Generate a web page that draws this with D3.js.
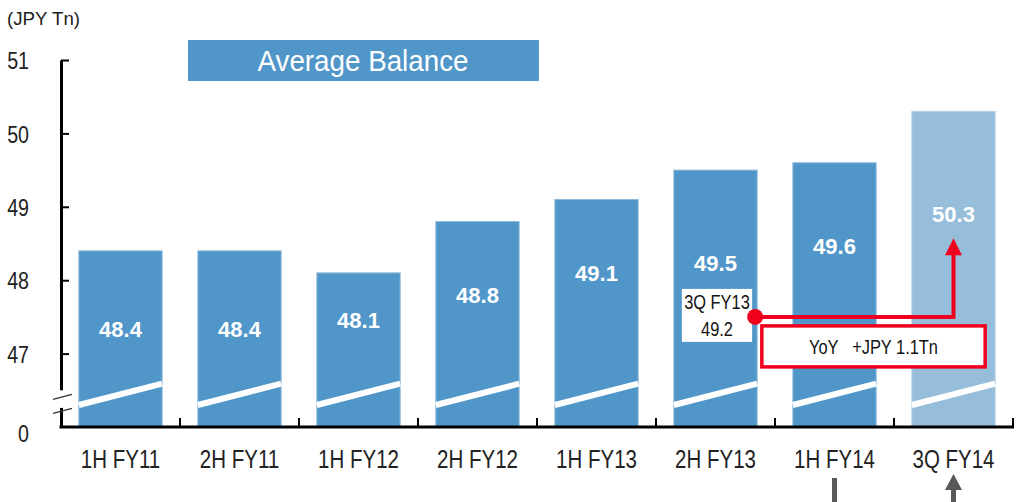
<!DOCTYPE html>
<html><head><meta charset="utf-8">
<script src="https://cdn.jsdelivr.net/npm/d3@7"></script>
<style>
html,body{margin:0;padding:0;background:#fff;}
svg{display:block;}
text{font-family:"Liberation Sans",Arial,sans-serif;}
</style></head>
<body>
<svg id="chart" width="1027" height="502"></svg>
<script>
// ---- data ----
const categories = ["1H FY11","2H FY11","1H FY12","2H FY12","1H FY13","2H FY13","1H FY14","3Q FY14"];
const values = [48.4, 48.4, 48.1, 48.8, 49.1, 49.5, 49.6, 50.3];
const labelAt = [47.34, 47.34, 47.46, 47.80, 48.10, 48.24, 48.47, 48.90];
const yTicks = [46, 47, 48, 49, 50, 51];
const yTickLabels = ["0", "47", "48", "49", "50", "51"];
const unitLabel = "(JPY Tn)";
const titleText = "Average Balance";
const refPoint = {label: "3Q FY13", value: 49.2, category: "2H FY13"};
const yoyText = "YoY\u00a0\u00a0\u00a0+JPY 1.1Tn";

// ---- layout ----
const NARROW = 0.82;
const svg = d3.select("#chart");
const x = d3.scaleBand().domain(categories).range([61, 1013]).paddingInner(0.3).paddingOuter(0.15);
const y = d3.scaleLinear().domain([46, 51]).range([427, 60]);
const blue = "#5096c9", light = "#96bedb", red = "#f0001e", grey = "#595959";

function narrowText(sel, cx, cy) {
  return sel.attr("x", cx / NARROW).attr("y", cy).attr("transform", `scale(${NARROW},1)`);
}

// bars
svg.append("g").selectAll("rect").data(categories).join("rect")
  .attr("x", d => x(d)).attr("width", x.bandwidth())
  .attr("y", (d,i) => y(values[i])).attr("height", (d,i) => y(46) - y(values[i]))
  .attr("fill", (d,i) => i === categories.length-1 ? light : blue)
  .attr("stroke", (d,i) => i === categories.length-1 ? "#b5d2e7" : "#8dbbdd").attr("stroke-width", 1);

// break slashes in bars
svg.append("g").selectAll("line").data(categories).join("line")
  .attr("x1", d => x(d)).attr("x2", d => x(d) + x.bandwidth())
  .attr("y1", y(46.30)).attr("y2", y(46.59))
  .attr("stroke", "#fff").attr("stroke-width", 6);

// bar value labels
svg.append("g").selectAll("text").data(categories).join("text")
  .attr("x", d => x(d) + x.bandwidth()/2)
  .attr("y", (d,i) => y(labelAt[i]))
  .attr("dy", "0.36em")
  .attr("text-anchor", "middle")
  .attr("fill", "#fff").attr("font-size", 22).attr("font-weight", "bold")
  .text((d,i) => values[i].toFixed(1));

// y axis
const yAxis = d3.axisLeft(y).tickValues(yTicks).tickSizeInner(-8).tickSizeOuter(0).tickPadding(32)
  .tickFormat((d,i) => yTickLabels[i]);
const gy = svg.append("g").attr("transform", "translate(61,0)").call(yAxis).attr("font-family", null);
gy.select(".domain").attr("stroke", "#000").attr("stroke-width", 3);
gy.selectAll(".tick line").attr("stroke", "#000").attr("stroke-width", 2);
gy.selectAll(".tick").filter(d => d === 46).select("line").remove();
gy.selectAll(".tick text").attr("font-size", 24).attr("fill", "#222")
  .attr("x", -32 / NARROW).attr("transform", `scale(${NARROW},1)`)
  .attr("dy", d => d === 46 ? "0.62em" : "0.36em");

// axis break
svg.append("rect").attr("x", 56).attr("width", 10).attr("y", y(46.5)).attr("height", y(46.26) - y(46.5)).attr("fill", "#fff");
[46.41, 46.22].forEach(v => {
  svg.append("line").attr("x1", 53).attr("x2", 72).attr("y1", y(v) + 2.5).attr("y2", y(v) - 2.5)
    .attr("stroke", "#333").attr("stroke-width", 1.2);
});

// x axis
const xAxis = d3.axisBottom(x).tickSize(0).tickPadding(23);
const gx = svg.append("g").attr("transform", `translate(0,${y(46)})`).call(xAxis).attr("font-family", null);
gx.select(".domain").attr("stroke", "#000").attr("stroke-width", 3).attr("d", `M59.5,0H1014`);
gx.selectAll(".tick text").attr("font-size", 25).attr("fill", "#222").attr("transform", `scale(${NARROW},1)`);
// category boundary ticks
gx.append("g").selectAll("line").data(categories).join("line")
  .attr("x1", d => x(d) + x.bandwidth() + x.step()*x.paddingInner()/2)
  .attr("x2", d => x(d) + x.bandwidth() + x.step()*x.paddingInner()/2)
  .attr("y1", 0).attr("y2", -9).attr("stroke", "#000").attr("stroke-width", 2);

// unit label
svg.append("text").attr("x", 7).attr("y", 25).attr("font-size", 19).attr("fill", "#222")
  .attr("textLength", 73).attr("lengthAdjust", "spacingAndGlyphs").text(unitLabel);

// title box
svg.append("rect").attr("x", 188).attr("y", 40).attr("width", 351).attr("height", 41).attr("fill", blue);
svg.append("text").attr("x", 363).attr("y", 61).attr("dy", "0.36em")
  .attr("text-anchor", "middle").attr("font-size", 29).attr("fill", "#fff")
  .attr("textLength", 211).attr("lengthAdjust", "spacingAndGlyphs").text(titleText);

// reference point annotation (3Q FY13)
const bx = x(refPoint.category), bw = x.bandwidth();
const dotY = y(47.5);
const boxCx = bx + 8 + (bw - 13) / 2;
svg.append("rect").attr("x", bx + 8).attr("y", dotY - 28).attr("width", bw - 13).attr("height", 53).attr("fill", "#fff");
narrowText(svg.append("text"), boxCx, dotY - 15).attr("dy", "0.36em")
  .attr("text-anchor", "middle").attr("font-size", 20).attr("fill", "#111").text(refPoint.label);
narrowText(svg.append("text"), boxCx, dotY + 12).attr("dy", "0.36em")
  .attr("text-anchor", "middle").attr("font-size", 20).attr("fill", "#111").text(refPoint.value.toFixed(1));

// red connector arrow
const lastCat = categories[categories.length-1];
const ax = x(lastCat) + x.bandwidth()/2;
const tipY = y(48.57);
svg.append("path").attr("d", `M${bx + bw - 2},${dotY}H${ax}V${tipY + 15}`)
  .attr("fill", "none").attr("stroke", red).attr("stroke-width", 4);
svg.append("path").attr("d", `M${ax},${tipY}L${ax - 8.5},${tipY + 17}L${ax + 8.5},${tipY + 17}Z`).attr("fill", red);
svg.append("circle").attr("cx", bx + bw - 2).attr("cy", dotY).attr("r", 8).attr("fill", red);

// YoY box
const yoyX0 = x(categories[6]) - 31, yoyX1 = x(lastCat) + x.bandwidth() - 10;
svg.append("rect").attr("x", yoyX0).attr("y", dotY + 9).attr("width", yoyX1 - yoyX0).attr("height", 41)
  .attr("fill", "#fff").attr("stroke", red).attr("stroke-width", 3.5);
narrowText(svg.append("text"), (yoyX0 + yoyX1)/2, dotY + 30).attr("dy", "0.36em")
  .attr("text-anchor", "middle").attr("font-size", 20).attr("fill", "#111").text(yoyText);

// bottom grey markers
const c6 = x(categories[6]) + x.bandwidth()/2;
svg.append("rect").attr("x", c6 - 2.5).attr("y", 478).attr("width", 5).attr("height", 30).attr("fill", grey);
svg.append("rect").attr("x", ax - 2.5).attr("y", 488).attr("width", 5).attr("height", 20).attr("fill", grey);
svg.append("path").attr("d", `M${ax},474L${ax - 8.5},490L${ax + 8.5},490Z`).attr("fill", grey);
</script>
</body></html>
